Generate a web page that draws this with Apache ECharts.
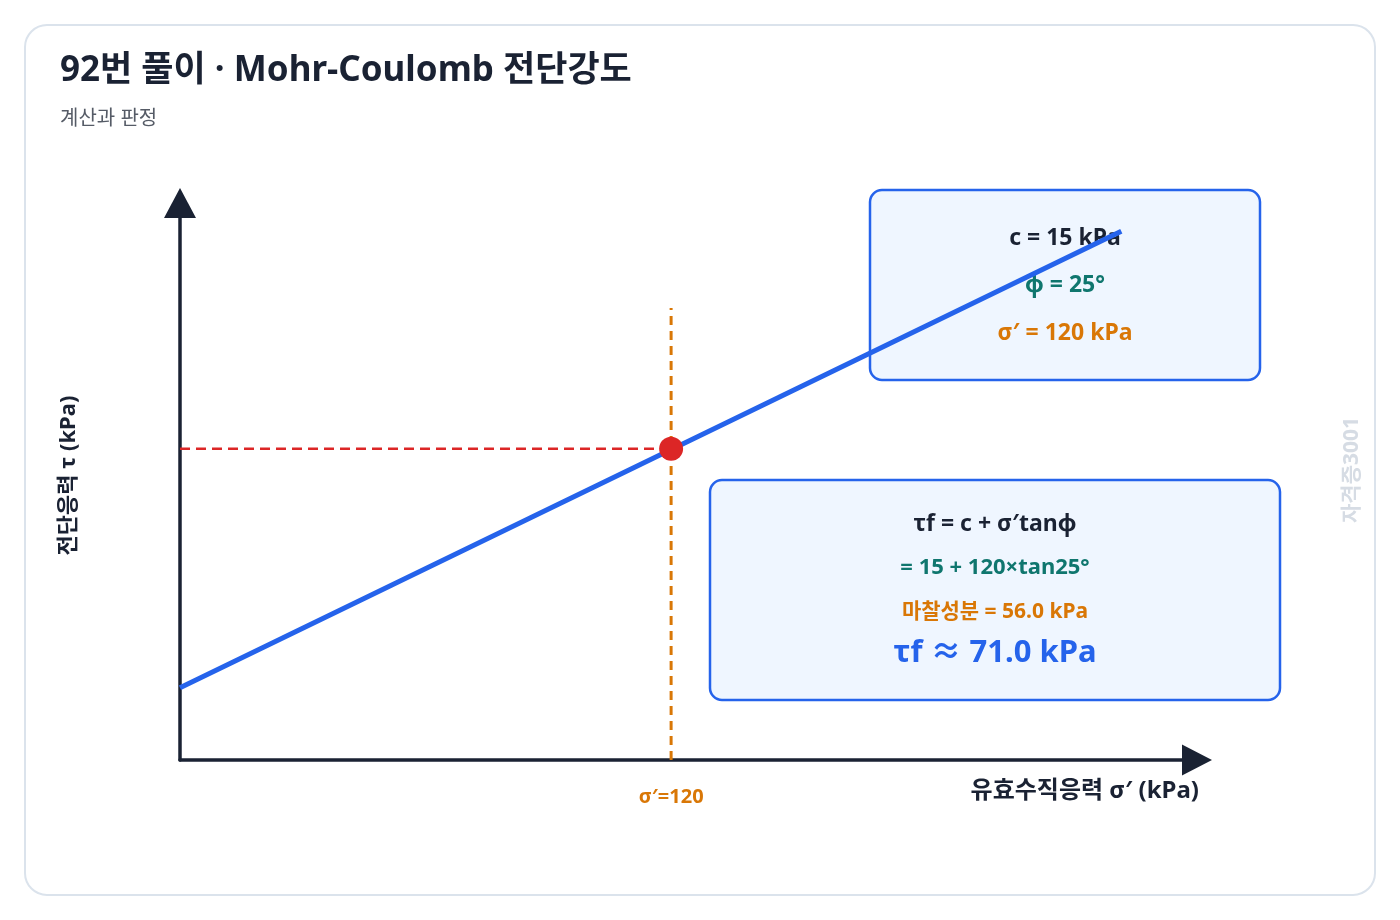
<!DOCTYPE html>
<html>
<head>
<meta charset="utf-8">
<script src="https://cdn.jsdelivr.net/npm/echarts@6/dist/echarts.min.js"></script>
<style>
html,body{margin:0;padding:0;background:#ffffff;}
#chart{width:1400px;height:920px;}
</style>
</head>
<body>
<div id="chart"></div>
<script>
// ---- data ----
const lineSigma = [0, 230];          // σ' (kPa) at ends of the failure envelope
const lineTau = [15, 122];           // τ (kPa) at ends of the failure envelope
const pointSigma = [120];            // σ' of the evaluated point
const pointTau = [71.0];             // τf of the evaluated point
const guideTop = [104];              // top of the vertical guide (τ)
const xTickValues = [120];
const xTickLabels = ['σ′=120'];

const titleText = '92번 풀이 · Mohr-Coulomb 전단강도';
const subtitleText = '계산과 판정';
const xName = '유효수직응력 σ′ (kPa)';
const yName = '전단응력 τ (kPa)';
const box1Lines = ['c = 15 kPa', 'φ = 25°', 'σ′ = 120 kPa'];
const box2Lines = ['τf = c + σ′tanφ', '= 15 + 120×tan25°', '마찰성분 = 56.0 kPa', 'τf ≈ 71.0 kPa'];
const watermark = '자격증3001';

const X_MIN = 0, X_MAX = 248.5, Y_MIN = -1.9, Y_MAX = 128.6;
const FONT = '"Noto Sans", "Noto Sans CJK KR", sans-serif';
const DARK = '#1a2233', TEAL = '#0f766e', ORANGE = '#d97706', BLUE = '#2563eb', RED = '#dc2626';

const chart = echarts.init(document.getElementById('chart'));

function txt(x, y, text, color, size, extra) {
  return Object.assign({
    type: 'text', x: x, y: y, z: 1,
    style: { text: text, fill: color, font: 'bold ' + size + 'px ' + FONT, align: 'center', verticalAlign: 'middle' }
  }, extra || {});
}

const option = {
  animation: false,
  backgroundColor: '#ffffff',
  title: {
    text: titleText,
    subtext: subtitleText,
    left: 55, top: 49,
    itemGap: 20,
    textStyle: { fontFamily: FONT, fontSize: 35, fontWeight: 'bold', color: DARK },
    subtextStyle: { fontFamily: FONT, fontSize: 20, color: '#555b66' }
  },
  grid: { left: 180, top: 203, width: 1017, height: 557, containLabel: false },
  xAxis: {
    type: 'value', min: X_MIN, max: X_MAX,
    name: xName, nameLocation: 'end', nameGap: 2,
    nameTextStyle: { fontFamily: FONT, fontSize: 24, fontWeight: 'bold', color: DARK, align: 'right', verticalAlign: 'top', padding: [19, 0, 0, 0] },
    axisLine: { show: true, onZero: false, symbol: ['none', 'triangle'], symbolSize: [31, 30], lineStyle: { color: DARK, width: 3.5 } },
    axisTick: { show: false },
    splitLine: { show: false },
    axisLabel: {
      customValues: xTickValues,
      formatter: function (v) { const i = xTickValues.indexOf(v); return i >= 0 ? xTickLabels[i] : ''; },
      margin: 27, color: ORANGE, fontFamily: FONT, fontSize: 20, fontWeight: 'bold'
    }
  },
  yAxis: {
    type: 'value', min: Y_MIN, max: Y_MAX,
    name: yName, nameLocation: 'middle', nameRotate: 90, nameGap: 100,
    nameTextStyle: { fontFamily: FONT, fontSize: 22, fontWeight: 'bold', color: DARK, padding: [0, 0, 0, 12] },
    axisLine: { show: true, onZero: false, symbol: ['none', 'triangle'], symbolSize: [32, 30], lineStyle: { color: DARK, width: 3.5 } },
    axisTick: { show: false },
    splitLine: { show: false },
    axisLabel: { show: false }
  },
  series: [
    {
      name: 'envelope', type: 'line', z: 3, symbol: 'none',
      data: lineSigma.map((s, i) => [s, lineTau[i]]),
      lineStyle: { color: BLUE, width: 5 }
    },
    {
      name: 'hguide', type: 'line', z: 2, symbol: 'none',
      data: [[X_MIN, pointTau[0]], [pointSigma[0], pointTau[0]]],
      lineStyle: { color: RED, width: 2.5, type: [10, 6] }
    },
    {
      name: 'vguide', type: 'line', z: 2, symbol: 'none',
      data: [[pointSigma[0], Y_MIN], [pointSigma[0], guideTop[0]]],
      lineStyle: { color: ORANGE, width: 3, type: [9, 6] }
    },
    {
      name: 'point', type: 'scatter', z: 5, symbolSize: 24,
      data: pointSigma.map((s, i) => [s, pointTau[i]]),
      itemStyle: { color: RED, opacity: 1 }
    }
  ],
  graphic: [
    { type: 'rect', z: -5, shape: { x: 25, y: 25, width: 1350, height: 870, r: 22 },
      style: { fill: '#ffffff', stroke: '#dbe3ec', lineWidth: 2 } },
    { type: 'rect', z: 1, shape: { x: 870, y: 190, width: 390, height: 190, r: 12 },
      style: { fill: '#eff6ff', stroke: BLUE, lineWidth: 2.5 } },
    txt(1065, 238, box1Lines[0], DARK, 23),
    txt(1065, 285, box1Lines[1], TEAL, 23),
    txt(1065, 333, box1Lines[2], ORANGE, 23),
    { type: 'rect', z: 1, shape: { x: 710, y: 480, width: 570, height: 220, r: 12 },
      style: { fill: '#eff6ff', stroke: BLUE, lineWidth: 2.5 } },
    txt(995, 524, box2Lines[0], DARK, 23),
    txt(995, 568, box2Lines[1], TEAL, 22),
    txt(995, 612, box2Lines[2], ORANGE, 21),
    txt(995, 653, box2Lines[3], BLUE, 31),
    { type: 'text', x: 1352, y: 470, z: 1, rotation: Math.PI / 2,
      style: { text: watermark, fill: '#d6dce4', font: 'bold 21px ' + FONT, align: 'center', verticalAlign: 'middle' } }
  ]
};
chart.setOption(option);
</script>
</body>
</html>
